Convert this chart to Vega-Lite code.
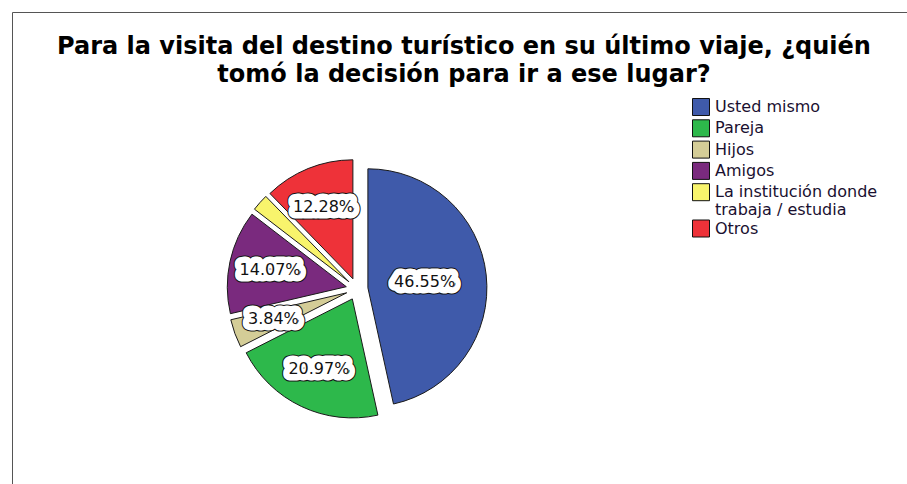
{
  "$schema": "https://vega.github.io/schema/vega-lite/v6.json",
  "width": 895,
  "height": 472,
  "autosize": {"type": "none"},
  "padding": {"left": 12, "top": 12, "right": 0, "bottom": 0},
  "background": "white",
  "view": {"stroke": "#555555", "strokeWidth": 1},
  "config": {
    "view": {"stroke": "#555555", "strokeWidth": 1},
    "font": "DejaVu Sans"
  },
  "title": {
    "text": ["Para la visita del destino turístico en  su último viaje, ¿quién", "tomó la decisión para ir a ese lugar?"],
    "font": "DejaVu Sans",
    "fontSize": 24,
    "fontWeight": "bold",
    "color": "#000000",
    "anchor": "middle",
    "frame": "group",
    "offset": 0,
    "lineHeight": 28,
    "dx": 4.5,
    "dy": 75
  },
  "data": {
    "values": [
      {"orden": 1, "cat": "Usted mismo", "pct": 0.4655},
      {"orden": 2, "cat": "Pareja", "pct": 0.2097},
      {"orden": 3, "cat": "Hijos", "pct": 0.0384},
      {"orden": 4, "cat": "Amigos", "pct": 0.1407},
      {"orden": 5, "cat": "La institución donde trabaja / estudia", "pct": 0.0229},
      {"orden": 6, "cat": "Otros", "pct": 0.1228}
    ]
  },
  "encoding": {
    "theta": {"field": "pct", "type": "quantitative", "stack": true},
    "order": {"field": "orden", "type": "quantitative"},
    "color": {
      "field": "cat",
      "type": "nominal",
      "sort": null,
      "scale": {
        "domain": ["Usted mismo", "Pareja", "Hijos", "Amigos", "La institución donde trabaja / estudia", "Otros"],
        "range": ["#3F5AAA", "#2DB84B", "#D4CD97", "#7A2A7E", "#F8F46C", "#EE3239"]
      },
      "legend": {
        "orient": "none",
        "legendX": 680,
        "legendY": 86,
        "title": null,
        "padding": 0,
        "symbolType": "square",
        "symbolSize": 289,
        "symbolStrokeColor": "#111111",
        "symbolStrokeWidth": 1,
        "symbolOpacity": 1,
        "labelFont": "DejaVu Sans",
        "labelFontSize": 16,
        "labelColor": "#1a1030",
        "labelLimit": 400,
        "labelOffset": 5,
        "rowPadding": -0.7,
        "labelExpr": "datum.label === 'La institución donde trabaja / estudia' ? ['La institución donde', 'trabaja / estudia'] : datum.label"
      }
    }
  },
  "layer": [
    {
      "mark": {"type": "arc", "radius": 119, "stroke": "#1a1a1a", "strokeWidth": 1, "xOffset": -91.6, "yOffset": 39.8},
      "encoding": {"opacity": {"condition": {"test": "datum.cat === 'Usted mismo'", "value": 1}, "value": 0}}
    },
    {
      "mark": {"type": "arc", "radius": 119, "stroke": "#1a1a1a", "strokeWidth": 1, "xOffset": -107.2, "yOffset": 50.9},
      "encoding": {"opacity": {"condition": {"test": "datum.cat === 'Pareja'", "value": 1}, "value": 0}}
    },
    {
      "mark": {"type": "arc", "radius": 119, "stroke": "#1a1a1a", "strokeWidth": 1, "xOffset": -112.8, "yOffset": 44.8},
      "encoding": {"opacity": {"condition": {"test": "datum.cat === 'Hijos'", "value": 1}, "value": 0}}
    },
    {
      "mark": {"type": "arc", "radius": 119, "stroke": "#1a1a1a", "strokeWidth": 1, "xOffset": -113.2, "yOffset": 38.7},
      "encoding": {"opacity": {"condition": {"test": "datum.cat === 'Amigos'", "value": 1}, "value": 0}}
    },
    {
      "mark": {"type": "arc", "radius": 119, "stroke": "#1a1a1a", "strokeWidth": 1, "xOffset": -110.7, "yOffset": 33.7},
      "encoding": {"opacity": {"condition": {"test": "datum.cat === 'La institución donde trabaja / estudia'", "value": 1}, "value": 0}}
    },
    {
      "mark": {"type": "arc", "radius": 119, "stroke": "#1a1a1a", "strokeWidth": 1, "xOffset": -106.6, "yOffset": 30.8},
      "encoding": {"opacity": {"condition": {"test": "datum.cat === 'Otros'", "value": 1}, "value": 0}}
    },
    {
      "mark": {"type": "text", "font": "DejaVu Sans", "fontSize": 16, "align": "center", "baseline": "middle", "xOffset": -102.5, "yOffset": 41, "stroke": "#111111", "strokeWidth": 15, "strokeJoin": "round"},
      "encoding": {
        "text": {"condition": {"test": "datum.pct < 0.03", "value": ""}, "field": "pct", "type": "quantitative", "format": ".2%"},
        "radius": {"field": "pct", "type": "quantitative", "scale": {"domain": [0.21, 0.4655], "range": [89, 68], "clamp": true, "zero": false}},
        "color": {"value": "#111111"}
      }
    },
    {
      "mark": {"type": "text", "font": "DejaVu Sans", "fontSize": 16, "align": "center", "baseline": "middle", "xOffset": -102.5, "yOffset": 41, "stroke": "#ffffff", "strokeWidth": 13, "strokeJoin": "round"},
      "encoding": {
        "text": {"condition": {"test": "datum.pct < 0.03", "value": ""}, "field": "pct", "type": "quantitative", "format": ".2%"},
        "radius": {"field": "pct", "type": "quantitative", "scale": {"domain": [0.21, 0.4655], "range": [89, 68], "clamp": true, "zero": false}},
        "color": {"value": "#ffffff"}
      }
    },
    {
      "mark": {"type": "text", "font": "DejaVu Sans", "fontSize": 16, "align": "center", "baseline": "middle", "xOffset": -102.5, "yOffset": 41},
      "encoding": {
        "text": {"condition": {"test": "datum.pct < 0.03", "value": ""}, "field": "pct", "type": "quantitative", "format": ".2%"},
        "radius": {"field": "pct", "type": "quantitative", "scale": {"domain": [0.21, 0.4655], "range": [89, 68], "clamp": true, "zero": false}},
        "color": {"value": "#111111"}
      }
    }
  ]
}
